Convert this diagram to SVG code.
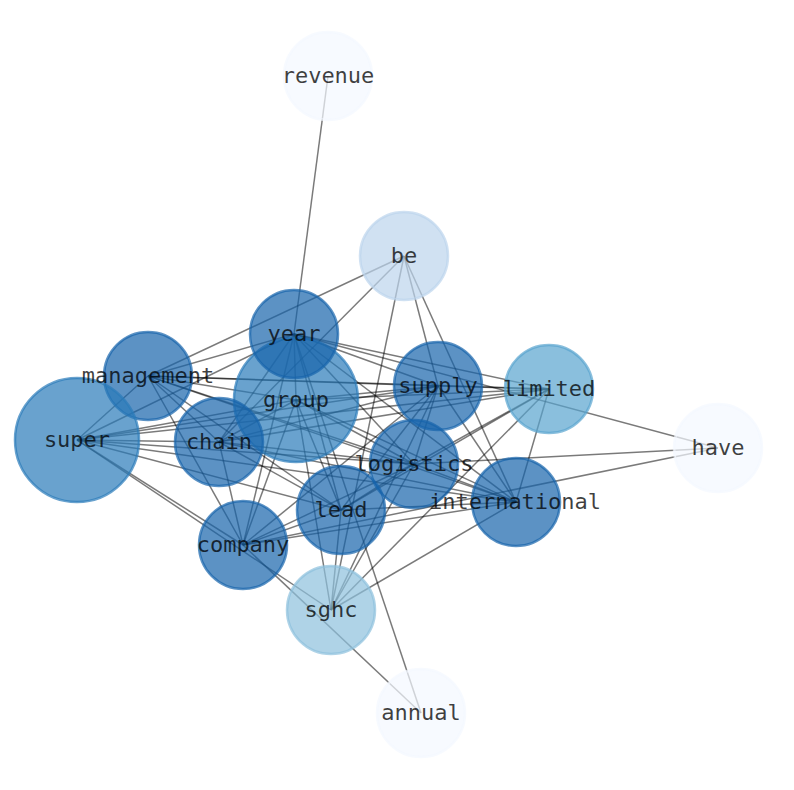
<svg xmlns="http://www.w3.org/2000/svg" width="794" height="790" viewBox="0 0 794 790">
<style>
.e line{stroke:#000;stroke-opacity:0.52;stroke-width:1.5;fill:none}
circle{stroke-width:2.5;fill-opacity:0.7;stroke-opacity:0.7}
.d circle{fill:#1764ab;stroke:#1764ab}
.g circle{fill:#2a7ab9;stroke:#2a7ab9}
.l3 circle{fill:#59a4ce;stroke:#59a4ce}
.l2 circle{fill:#8dc1dd;stroke:#8dc1dd}
.l1 circle{fill:#bcd4ec;stroke:#bcd4ec}
.l0 circle{fill:#f3f8ff;stroke:#f3f8ff}
text{font-family:"DejaVu Sans Mono",monospace;font-size:22px;fill:#000;fill-opacity:0.75;text-anchor:middle;dominant-baseline:central}
</style>
<rect width="794" height="790" fill="#fff"/>
<g id="edges" class="e">
<line x1="328" y1="76" x2="294" y2="334"/>
<line x1="718" y1="448" x2="294" y2="334"/>
<line x1="718" y1="448" x2="414" y2="464"/>
<line x1="718" y1="448" x2="243" y2="545"/>
<line x1="421" y1="713" x2="294" y2="334"/>
<line x1="421" y1="713" x2="243" y2="545"/>
<line x1="404" y1="256" x2="148" y2="376"/>
<line x1="404" y1="256" x2="219" y2="442"/>
<line x1="404" y1="256" x2="331" y2="610"/>
<line x1="404" y1="256" x2="438" y2="386"/>
<line x1="404" y1="256" x2="516" y2="502"/>
<line x1="77" y1="440" x2="148" y2="376"/>
<line x1="77" y1="440" x2="294" y2="334"/>
<line x1="77" y1="440" x2="296" y2="400"/>
<line x1="77" y1="440" x2="438" y2="386"/>
<line x1="77" y1="440" x2="549" y2="389"/>
<line x1="77" y1="440" x2="219" y2="442"/>
<line x1="77" y1="440" x2="414" y2="464"/>
<line x1="77" y1="440" x2="516" y2="502"/>
<line x1="77" y1="440" x2="341" y2="510"/>
<line x1="77" y1="440" x2="243" y2="545"/>
<line x1="77" y1="440" x2="331" y2="610"/>
<line x1="148" y1="376" x2="294" y2="334"/>
<line x1="148" y1="376" x2="296" y2="400"/>
<line x1="148" y1="376" x2="438" y2="386"/>
<line x1="148" y1="376" x2="549" y2="389"/>
<line x1="148" y1="376" x2="414" y2="464"/>
<line x1="148" y1="376" x2="516" y2="502"/>
<line x1="148" y1="376" x2="341" y2="510"/>
<line x1="148" y1="376" x2="243" y2="545"/>
<line x1="148" y1="376" x2="219" y2="442"/>
<line x1="294" y1="334" x2="296" y2="400"/>
<line x1="294" y1="334" x2="438" y2="386"/>
<line x1="294" y1="334" x2="549" y2="389"/>
<line x1="294" y1="334" x2="219" y2="442"/>
<line x1="294" y1="334" x2="414" y2="464"/>
<line x1="294" y1="334" x2="516" y2="502"/>
<line x1="294" y1="334" x2="341" y2="510"/>
<line x1="294" y1="334" x2="243" y2="545"/>
<line x1="296" y1="400" x2="438" y2="386"/>
<line x1="296" y1="400" x2="549" y2="389"/>
<line x1="296" y1="400" x2="219" y2="442"/>
<line x1="296" y1="400" x2="414" y2="464"/>
<line x1="296" y1="400" x2="516" y2="502"/>
<line x1="296" y1="400" x2="341" y2="510"/>
<line x1="296" y1="400" x2="243" y2="545"/>
<line x1="296" y1="400" x2="331" y2="610"/>
<line x1="438" y1="386" x2="549" y2="389"/>
<line x1="438" y1="386" x2="219" y2="442"/>
<line x1="438" y1="386" x2="414" y2="464"/>
<line x1="438" y1="386" x2="516" y2="502"/>
<line x1="438" y1="386" x2="341" y2="510"/>
<line x1="438" y1="386" x2="243" y2="545"/>
<line x1="438" y1="386" x2="331" y2="610"/>
<line x1="549" y1="389" x2="414" y2="464"/>
<line x1="549" y1="389" x2="516" y2="502"/>
<line x1="549" y1="389" x2="341" y2="510"/>
<line x1="549" y1="389" x2="331" y2="610"/>
<line x1="549" y1="389" x2="219" y2="442"/>
<line x1="219" y1="442" x2="414" y2="464"/>
<line x1="219" y1="442" x2="341" y2="510"/>
<line x1="219" y1="442" x2="243" y2="545"/>
<line x1="219" y1="442" x2="516" y2="502"/>
<line x1="414" y1="464" x2="516" y2="502"/>
<line x1="414" y1="464" x2="341" y2="510"/>
<line x1="414" y1="464" x2="243" y2="545"/>
<line x1="414" y1="464" x2="331" y2="610"/>
<line x1="516" y1="502" x2="341" y2="510"/>
<line x1="516" y1="502" x2="243" y2="545"/>
<line x1="516" y1="502" x2="331" y2="610"/>
<line x1="341" y1="510" x2="243" y2="545"/>
<line x1="341" y1="510" x2="331" y2="610"/>
</g>
<g id="nodes">
<g id="n-revenue" class="l0"><circle cx="328" cy="76" r="44"/></g>
<g id="n-be" class="l1"><circle cx="404" cy="256" r="44"/></g>
<g id="n-group" class="g"><circle cx="296" cy="400" r="62"/></g>
<g id="n-year" class="d"><circle cx="294" cy="334" r="44"/></g>
<g id="n-management" class="d"><circle cx="148" cy="376" r="44"/></g>
<g id="n-super" class="g"><circle cx="77" cy="440" r="62"/></g>
<g id="n-chain" class="d"><circle cx="219" cy="442" r="44"/></g>
<g id="n-supply" class="d"><circle cx="438" cy="386" r="44"/></g>
<g id="n-limited" class="l3"><circle cx="549" cy="389" r="44"/></g>
<g id="n-have" class="l0"><circle cx="718" cy="448" r="44"/></g>
<g id="n-logistics" class="d"><circle cx="414" cy="464" r="44"/></g>
<g id="n-international" class="d"><circle cx="516" cy="502" r="44"/></g>
<g id="n-lead" class="d"><circle cx="341" cy="510" r="44"/></g>
<g id="n-company" class="d"><circle cx="243" cy="545" r="44"/></g>
<g id="n-sghc" class="l2"><circle cx="331" cy="610" r="44"/></g>
<g id="n-annual" class="l0"><circle cx="421" cy="713" r="44"/></g>
</g>
<g id="labels">
<text x="328" y="75">revenue</text>
<text x="404" y="255">be</text>
<text x="294" y="333">year</text>
<text x="148" y="375">management</text>
<text x="296" y="399">group</text>
<text x="438" y="385">supply</text>
<text x="549" y="388">limited</text>
<text x="718" y="447">have</text>
<text x="77" y="439">super</text>
<text x="219" y="441">chain</text>
<text x="414" y="463">logistics</text>
<text x="515" y="501">international</text>
<text x="341" y="509">lead</text>
<text x="243" y="544">company</text>
<text x="331" y="609">sghc</text>
<text x="421" y="712">annual</text>
</g>
</svg>
